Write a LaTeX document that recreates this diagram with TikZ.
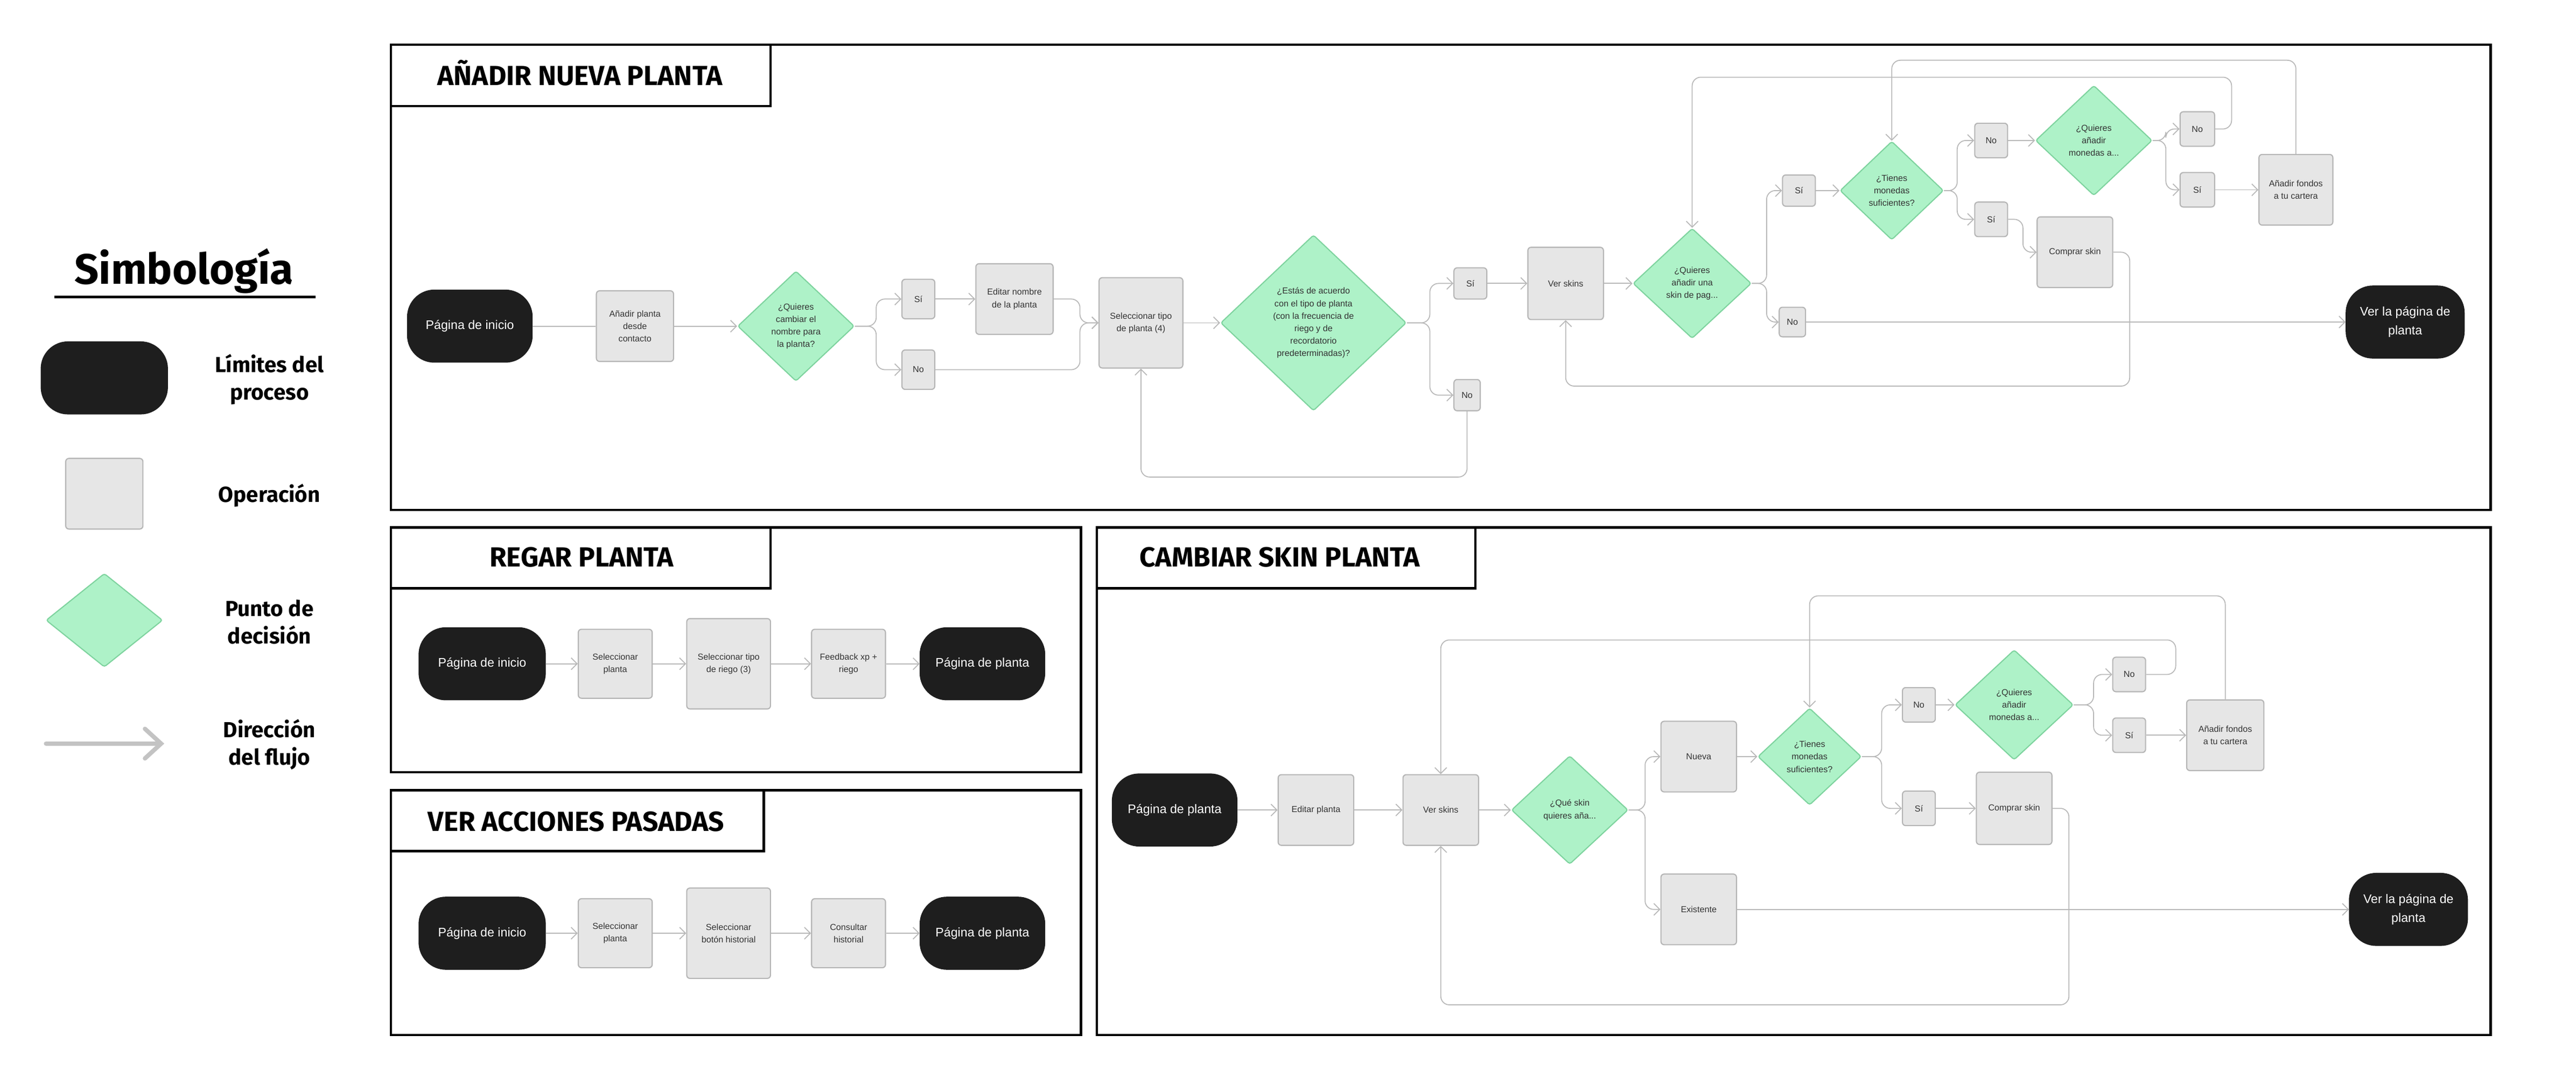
\documentclass[tikz,border=0pt]{standalone}
\usepackage{fontspec}
\setmainfont{Liberation Sans}
\newfontfamily\headfont{Fira Sans}
\usetikzlibrary{shapes.geometric,arrows.meta}

\definecolor{termfill}{HTML}{1E1E1E}
\definecolor{procfill}{HTML}{E6E6E6}
\definecolor{procline}{HTML}{B5B5B5}
\definecolor{decifill}{HTML}{AEF2C8}
\definecolor{deciline}{HTML}{7ED39E}
\definecolor{flowline}{HTML}{B8B8B8}
\definecolor{nodetext}{HTML}{333333}

\newcommand{\dpx}{0.3051mm}

\tikzset{
  term/.style={draw=termfill, fill=termfill, text=white, rounded corners=5mm,
    minimum width=76*\dpx, minimum height=44*\dpx, inner sep=0pt, align=center,
    font=\fontsize{6.6}{9.9}\selectfont},
  proc/.style={draw=procline, fill=procfill, line width=0.6pt, rounded corners=0.6mm,
    minimum width=46*\dpx, minimum height=43*\dpx, inner sep=0pt, align=center,
    text=nodetext, font=\fontsize{4.6}{6.6}\selectfont},
  opt/.style={proc, minimum width=20*\dpx, minimum height=21*\dpx},
  deci/.style 2 args={diamond, draw=deciline, fill=decifill, line width=0.6pt,
    rounded corners=0.4mm, minimum width=#1*\dpx, minimum height=#2*\dpx,
    inner sep=0pt, align=center, text=nodetext, font=\fontsize{4.6}{6.6}\selectfont},
  flow/.style={draw=flowline, line width=0.5pt, rounded corners=1.6mm,
    -{Straight Barb[length=1.1mm, width=2.2mm]}},
  link/.style={flow, -},
  frame/.style={draw=black, line width=1.3pt},
  heading/.style={anchor=base, font=\headfont\bfseries\fontsize{14.6}{17}\selectfont},
  legtext/.style={align=center, font=\headfont\bfseries\fontsize{11.5}{14.5}\selectfont},
  legarrow/.style={draw=flowline!85, line width=0.8mm, line cap=round,
    -{Straight Barb[length=3mm, width=5.5mm, line cap=round]}}
}

\begin{document}
\begin{tikzpicture}[x=0.3051mm, y=-0.3051mm]
\useasboundingbox (0,0) rectangle (1568,655.5);

% legend
\node[heading, font=\headfont\bfseries\fontsize{22.5}{27}\selectfont] (simb) at (112,173) {Simbología};
\coordinate (ulA) at (33,180.6);
\coordinate (ulB) at (192,180.6);
\draw[line width=0.5mm] (ulA) -- (ulB);
\node[term, minimum width=77*\dpx] (legterm) at (63.5,230) {};
\node[proc, minimum width=47*\dpx] (legproc) at (63.5,300.5) {};
\node[deci={71}{57}] (legdeci) at (63.5,377.5) {};
\coordinate (legA) at (28,452.6);
\coordinate (legB) at (100,452.6);
\draw[legarrow] (legA) -- (legB);
\node[legtext] (labterm) at (164,231) {Límites del\\proceso};
\node[legtext] (labproc) at (164,301.6) {Operación};
\node[legtext] (labdeci) at (164,378.7) {Punto de\\decisión};
\node[legtext] (labflow) at (164,453) {Dirección\\del flujo};

% panel frames
\draw[frame] (238,27.2) rectangle (1516,310.4);
\draw[frame] (238,27.2) rectangle (469,64.6);
\node[heading] (tnueva) at (353,52) {AÑADIR NUEVA PLANTA};
\draw[frame] (238,321) rectangle (658,470);
\draw[frame] (238,321) rectangle (469,358);
\node[heading] (tregar) at (354,345) {REGAR PLANTA};
\draw[frame] (238,481) rectangle (658,630);
\draw[frame] (238,481) rectangle (465,518);
\node[heading] (tacciones) at (350.7,505.8) {VER ACCIONES PASADAS};
\draw[frame] (667.6,321) rectangle (1516,630);
\draw[frame] (667.6,321) rectangle (898,358);
\node[heading] (tskin) at (779,345) {CAMBIAR SKIN PLANTA};

% annadir nueva planta
\node[term] (start1) at (286,198.5) {Página de inicio};
\node[proc, minimum width=47*\dpx] (addp) at (386.5,198.5) {Añadir planta\\desde\\contacto};
\node[deci={71}{67}] (d1) at (484.5,198.5) {¿Quieres\\cambiar el\\nombre para\\la planta?};
\node[opt, minimum height=24*\dpx] (si1) at (559,182) {Sí};
\node[opt, minimum height=24*\dpx] (no1) at (559,225) {No};
\node[proc, minimum width=47*\dpx] (edit1) at (617.5,182) {Editar nombre\\de la planta};
\node[proc, minimum width=51*\dpx, minimum height=55*\dpx] (seltipo) at (694.5,196.5) {Seleccionar tipo\\de planta (4)};
\node[deci={113}{107}] (d2) at (799.5,196.5) {¿Estás de acuerdo\\con el tipo de planta\\(con la frecuencia de\\riego y de\\recordatorio\\predeterminadas)?};
\node[opt, minimum height=19*\dpx] (si2) at (895,172.5) {Sí};
\node[opt, minimum width=16*\dpx, minimum height=19*\dpx] (no2) at (893,240.5) {No};
\node[proc, minimum height=44*\dpx] (verskins1) at (953,172.5) {Ver skins};
\node[deci={72}{67}] (d3) at (1030,172.5) {¿Quieres\\añadir una\\skin de pag...};
\node[opt, minimum height=19*\dpx] (si3) at (1095,116) {Sí};
\node[opt, minimum width=16*\dpx, minimum height=18*\dpx] (no3) at (1091,196) {No};
\node[deci={63}{60}] (d4) at (1151.5,116) {¿Tienes\\monedas\\suficientes?};
\node[opt] (no4) at (1212,85.5) {No};
\node[opt] (si4) at (1212,133.5) {Sí};
\node[deci={71}{67}] (d5) at (1274.5,85.5) {¿Quieres\\añadir\\monedas a...};
\node[opt, minimum width=21*\dpx] (no5) at (1337.5,78.5) {No};
\node[opt, minimum width=21*\dpx] (si5) at (1337.5,115.5) {Sí};
\node[proc, minimum width=45*\dpx] (fondos1) at (1397.5,115.5) {Añadir fondos\\a tu cartera};
\node[proc] (comprar1) at (1263,153.5) {Comprar skin};
\node[term, minimum width=72*\dpx] (end1) at (1464,196) {Ver la página de\\planta};

\draw[link] (start1) -- (addp);
\draw[flow] (addp) -- (d1);
\draw[flow] (d1.east) -- ++(13,0) |- (si1.west);
\draw[flow] (d1.east) -- ++(13,0) |- (no1.west);
\draw[flow] (si1) -- (edit1);
\draw[flow] (edit1.east) -- ++(16,0) |- (seltipo.west);
\draw[flow] (no1.east) -- ++(88,0) |- (seltipo.west);
\draw[flow] (seltipo) -- (d2);
\draw[flow] (d2.east) -- ++(14,0) |- (si2.west);
\draw[flow] (d2.east) -- ++(14,0) |- (no2.west);
\draw[flow] (si2) -- (verskins1);
\draw[flow] (no2.south) -- ++(0,40) -| (seltipo.south);
\draw[flow] (verskins1) -- (d3);
\draw[flow] (d3.east) -- ++(9,0) |- (si3.west);
\draw[flow] (d3.east) -- ++(9,0) |- (no3.west);
\draw[flow] (si3) -- (d4);
\draw[flow] (d4.east) -- ++(8,0) |- (no4.west);
\draw[flow] (d4.east) -- ++(8,0) |- (si4.west);
\draw[flow] (no4) -- (d5);
\draw[flow] (d5.east) -- ++(8,0) |- (no5.west);
\draw[flow] (d5.east) -- ++(8,0) |- (si5.west);
\draw[flow] (si5) -- (fondos1);
\draw[flow] (no5.east) -- ++(10,0) -- ++(0,-31.5) -| (d3.north);
\draw[flow] (fondos1.north) -- ++(0,-57) -| (d4.north);
\draw[flow] (si4.east) -- ++(9,0) |- (comprar1.west);
\draw[flow] (comprar1.east) -- ++(10,0) -- ++(0,81.5) -| (verskins1.south);
\draw[flow] (no3) -- (end1);

% regar planta
\node[term, minimum width=77*\dpx] (start2) at (293.5,404) {Página de inicio};
\node[proc, minimum width=45*\dpx, minimum height=42*\dpx] (selp2) at (374.5,404) {Seleccionar\\planta};
\node[proc, minimum width=51*\dpx, minimum height=55*\dpx] (seltr) at (443.5,404) {Seleccionar tipo\\de riego (3)};
\node[proc, minimum width=45*\dpx, minimum height=42*\dpx] (feed) at (516.5,404) {Feedback xp +\\riego};
\node[term] (end2) at (598,404) {Página de planta};
\foreach \a/\b in {start2/selp2, selp2/seltr, seltr/feed, feed/end2}
  \draw[flow] (\a) -- (\b);

% ver acciones pasadas
\node[term, minimum width=77*\dpx] (start4) at (293.5,568) {Página de inicio};
\node[proc, minimum width=45*\dpx, minimum height=42*\dpx] (selp4) at (374.5,568) {Seleccionar\\planta};
\node[proc, minimum width=51*\dpx, minimum height=55*\dpx] (selbh) at (443.5,568) {Seleccionar\\botón historial};
\node[proc, minimum width=45*\dpx, minimum height=42*\dpx] (cons) at (516.5,568) {Consultar\\historial};
\node[term] (end4) at (598,568) {Página de planta};
\foreach \a/\b in {start4/selp4, selp4/selbh, selbh/cons, cons/end4}
  \draw[flow] (\a) -- (\b);

% cambiar skin planta
\node[term] (start3) at (715,493) {Página de planta};
\node[proc] (editp) at (801,493) {Editar planta};
\node[proc] (verskins3) at (877,493) {Ver skins};
\node[deci={71}{66}] (dq) at (955.5,493) {¿Qué skin\\quieres aña...};
\node[proc] (nueva) at (1034,460.5) {Nueva};
\node[proc] (exist) at (1034,553.5) {Existente};
\node[deci={63}{59}] (d6) at (1101.5,460.5) {¿Tienes\\monedas\\suficientes?};
\node[opt] (no6) at (1168,429) {No};
\node[opt] (si6) at (1168,492) {Sí};
\node[deci={72}{67}] (d7) at (1226,429) {¿Quieres\\añadir\\monedas a...};
\node[opt] (no7) at (1296,410.5) {No};
\node[opt] (si7) at (1296,447.5) {Sí};
\node[proc, minimum width=47*\dpx] (fondos3) at (1354.5,447.5) {Añadir fondos\\a tu cartera};
\node[proc, minimum height=44*\dpx] (comprar3) at (1226,492) {Comprar skin};
\node[term, minimum width=72*\dpx] (end3) at (1466,553.5) {Ver la página de\\planta};

\draw[flow] (start3) -- (editp);
\draw[flow] (editp) -- (verskins3);
\draw[flow] (verskins3) -- (dq);
\draw[flow] (dq.east) -- ++(10,0) |- (nueva.west);
\draw[flow] (dq.east) -- ++(10,0) |- (exist.west);
\draw[flow] (nueva) -- (d6);
\draw[flow] (exist) -- (end3);
\draw[flow] (d6.east) -- ++(12,0) |- (no6.west);
\draw[flow] (d6.east) -- ++(12,0) |- (si6.west);
\draw[flow] (no6) -- (d7);
\draw[flow] (si6) -- (comprar3);
\draw[flow] (d7.east) -- ++(12,0) |- (no7.west);
\draw[flow] (d7.east) -- ++(12,0) |- (si7.west);
\draw[flow] (si7) -- (fondos3);
\draw[flow] (no7.east) -- ++(18,0) -- ++(0,-21) -| (verskins3.north);
\draw[flow] (fondos3.north) -- ++(0,-63) -| (d6.north);
\draw[flow] (comprar3.east) -- ++(10,0) -- ++(0,119.6) -| (verskins3.south);
\end{tikzpicture}
\end{document}
